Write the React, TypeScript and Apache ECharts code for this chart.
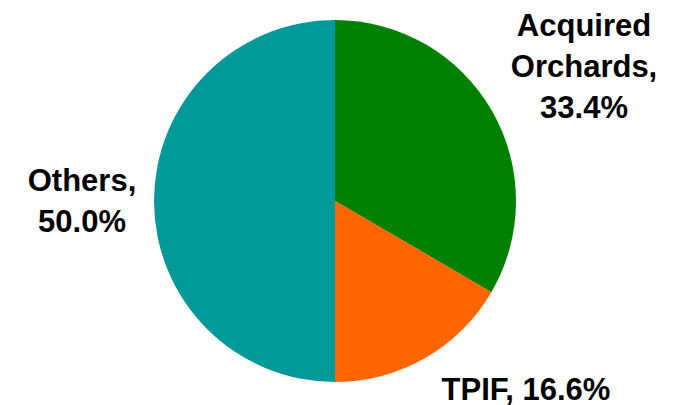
import React, { useEffect, useRef } from "react";
import * as echarts from "echarts";

const categories = ["Acquired Orchards", "TPIF", "Others"];
const values = [33.4, 16.6, 50.0];
const colors = ["#008000", "#FF6600", "#009999"];
// label text lines per slice
const labelTexts = [
  "Acquired\nOrchards,\n33.4%",
  "TPIF, 16.6%",
  "Others,\n50.0%",
];

const labelPos = [
  { x: 584, y: 66 },
  { x: 526, y: 389 },
  { x: 82, y: 201 },
];

export default function App() {
  const ref = useRef<HTMLDivElement>(null);
  useEffect(() => {
    if (!ref.current) return;
    const chart = echarts.init(ref.current, null, { renderer: "svg" });
    chart.setOption({
      animation: false,
      backgroundColor: "#ffffff",
      series: [
        {
          type: "pie",
          center: [335, 201],
          radius: [0, 181],
          startAngle: 90,
          clockwise: true,
          data: categories.map((c, i) => ({
            name: c,
            value: values[i],
            itemStyle: { color: colors[i] },
          })),
          label: {
            show: true,
            position: "inside",
            overflow: "none",
            formatter: (p: any) => labelTexts[p.dataIndex],
            fontFamily: "Liberation Sans, Arial, sans-serif",
            fontWeight: "bold",
            fontSize: 31,
            lineHeight: 41,
            color: "#000000",
            align: "center",
          },
          labelLine: { show: false },
          labelLayout: (p: any) => ({
            x: labelPos[p.dataIndex].x,
            y: labelPos[p.dataIndex].y,
            align: "center",
            verticalAlign: "middle",
          }),
          emphasis: { disabled: true },
        },
      ],
    });
    return () => chart.dispose();
  }, []);
  return (
    <div
      ref={ref}
      style={{ position: "absolute", left: 0, top: 0, width: 679, height: 405 }}
    />
  );
}
